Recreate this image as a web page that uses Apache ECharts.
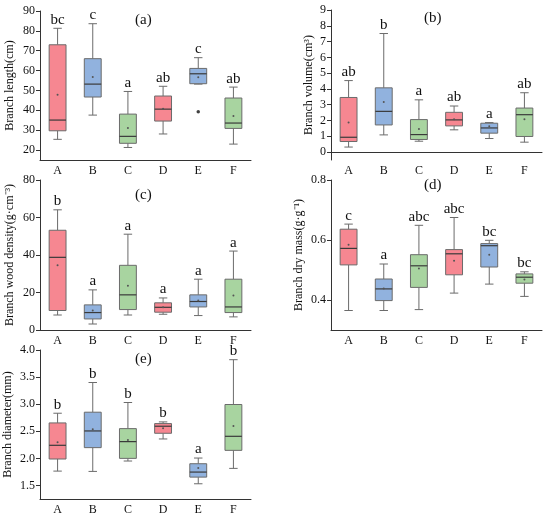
<!DOCTYPE html>
<html><head><meta charset="utf-8">
<script src="https://cdn.jsdelivr.net/npm/echarts@6/dist/echarts.min.js"></script>
<style>html,body{margin:0;padding:0;background:#fff}#c{width:550px;height:517px}</style>
</head><body><div id="c"></div>
<script>
const categories = ['A','B','C','D','E','F'];
const boxColors = ['#f68791','#91b2de','#a8d4a0','#f68791','#91b2de','#a8d4a0'];

// [min, Q1, median, Q3, max]
const lengthBox = [[25.4,29.7,35.1,73.0,81.3],[37.6,46.7,53.2,66.0,83.6],[21.3,23.4,26.9,38.1,49.5],[28.1,34.6,40.6,47.2,52.1],[53.2,53.4,58.4,61.1,66.5],[23.0,30.9,33.6,46.2,51.7]];
const lengthMean = [47.9,56.8,31.1,40.8,56.6,37.1];
const lengthLetters = ['bc','c','a','ab','c','ab'];
const lengthOutliers = [['E',39.3]];
const lengthTicks = [20,30,40,50,60,70,80,90];

const volumeBox = [[0.32,0.67,0.94,3.46,4.53],[1.09,1.72,2.58,4.07,7.51],[0.69,0.80,1.11,2.06,3.31],[1.41,1.66,2.04,2.52,2.92],[0.86,1.20,1.53,1.83,1.87],[0.63,0.99,2.37,2.79,3.76]];
const volumeMean = [1.87,3.17,1.47,2.08,1.64,2.08];
const volumeLetters = ['ab','b','a','ab','a','ab'];
const volumeTicks = [0,1,2,3,4,5,6,7,8,9];

const densityBox = [[8.0,10.4,38.75,53.2,64.1],[3.2,5.9,9.3,13.4,21.4],[8.0,10.9,18.75,34.5,51.1],[8.4,9.5,12.1,14.5,17.1],[7.7,12.3,15.2,18.75,27.1],[7.0,9.3,12.3,27.1,42.1]];
const densityMean = [34.5,10.4,23.6,12.1,15.7,18.4];
const densityLetters = ['b','a','a','a','a','a'];
const densityTicks = [0,20,40,60,80];

const dryBox = [[0.365,0.517,0.572,0.636,0.653],[0.365,0.398,0.437,0.470,0.520],[0.368,0.442,0.514,0.551,0.649],[0.423,0.484,0.554,0.568,0.675],[0.453,0.510,0.581,0.588,0.599],[0.412,0.456,0.476,0.487,0.494]];
const dryMean = [0.584,0.438,0.505,0.531,0.551,0.468];
const dryLetters = ['c','a','abc','abc','bc','bc'];
const dryTicks = [0.4,0.6,0.8];

const diameterBox = [[1.765,1.988,2.241,2.654,2.833],[1.759,2.198,2.506,2.852,3.40],[1.951,2.0,2.309,2.549,3.031],[2.358,2.463,2.593,2.642,2.673],[1.531,1.654,1.747,1.901,2.006],[1.815,2.148,2.407,2.994,3.821]];
const diameterMean = [2.296,2.537,2.34,2.556,1.821,2.599];
const diameterLetters = ['b','b','b','b','a','b'];
const diameterTicks = [1.5,2.0,2.5,3.0,3.5,4.0];

const FONT = "'Liberation Serif','Times New Roman',serif";

const panels = [
  {box:lengthBox, mean:lengthMean, letters:lengthLetters, ticks:lengthTicks, min:15, max:90, name:'Branch length(cm)', tag:'(a)',
   grid:{left:40,top:11,width:211,height:149}, nameGap:24, tagPos:[147,22], dec:0},
  {box:volumeBox, mean:volumeMean, letters:volumeLetters, ticks:volumeTicks, min:-0.5, max:9, name:'Branch volume(cm³)', tag:'(b)',
   grid:{left:331,top:10,width:211,height:150}, nameGap:16, tagPos:[436,20], dec:0},
  {box:densityBox, mean:densityMean, letters:densityLetters, ticks:densityTicks, min:0, max:80, name:'Branch wood density(g·cm⁻³)', tag:'(c)',
   grid:{left:40,top:180,width:211,height:150}, nameGap:24, tagPos:[147,197], dec:0},
  {box:dryBox, mean:dryMean, letters:dryLetters, ticks:dryTicks, min:0.3, max:0.8, name:'Branch dry mass(g·g⁻¹)', tag:'(d)',
   grid:{left:331,top:180,width:211,height:150}, nameGap:26, tagPos:[436,187], dec:1},
  {box:diameterBox, mean:diameterMean, letters:diameterLetters, ticks:diameterTicks, min:1.25, max:4.0, name:'Branch diameter(mm)', tag:'(e)',
   grid:{left:40,top:350,width:211,height:149}, nameGap:26, tagPos:[147,361], dec:1}
];

const grids=[], xAxes=[], yAxes=[], series=[], graphics=[];
panels.forEach((p, gi) => {
  grids.push(p.grid);
  xAxes.push({type:'category', gridIndex:gi, data:categories,
    axisLine:{lineStyle:{color:'#333',width:1}},
    axisTick:{inside:true, alignWithLabel:true, length:3, lineStyle:{color:'#333'}},
    axisLabel:{fontFamily:FONT, fontSize:12, color:'#111', margin:5},
    splitLine:{show:false}});
  yAxes.push({type:'value', gridIndex:gi, min:p.min, max:p.max,
    name:p.name, nameLocation:'middle', nameGap:p.nameGap, nameRotate:90,
    nameTextStyle:{fontFamily:FONT, fontSize:12, color:'#111'},
    axisLine:{show:true, lineStyle:{color:'#333',width:1}},
    axisTick:{show:true, inside:false, length:4, customValues:p.ticks, lineStyle:{color:'#333'}},
    axisLabel:{fontFamily:FONT, fontSize:12, color:'#111', margin:5, customValues:p.ticks,
      formatter: v => Number(v).toFixed(p.dec)},
    splitLine:{show:false}});
  const data = categories.map((c, i) => [i, ...p.box[i], p.mean[i]]);
  series.push({type:'custom', xAxisIndex:gi, yAxisIndex:gi, data:data,
    encode:{x:0, y:[1,5]}, silent:true,
    renderItem:(params, api) => {
      const i = api.value(0);
      const mn=api.value(1), q1=api.value(2), md=api.value(3), q3=api.value(4), mx=api.value(5), mean=api.value(6);
      const band = api.size([1,0])[0];
      const hw = band*0.24, cw = band*0.12;
      const pMin=api.coord([i,mn]), pQ1=api.coord([i,q1]), pMd=api.coord([i,md]), pQ3=api.coord([i,q3]), pMx=api.coord([i,mx]), pMean=api.coord([i,mean]);
      const x=pMin[0];
      const ls={stroke:'#6b6b6b', lineWidth:1};
      return {type:'group', children:[
        {type:'line', shape:{x1:x,y1:pMx[1],x2:x,y2:pQ3[1]}, style:ls},
        {type:'line', shape:{x1:x,y1:pMin[1],x2:x,y2:pQ1[1]}, style:ls},
        {type:'line', shape:{x1:x-cw,y1:pMx[1],x2:x+cw,y2:pMx[1]}, style:ls},
        {type:'line', shape:{x1:x-cw,y1:pMin[1],x2:x+cw,y2:pMin[1]}, style:ls},
        {type:'rect', shape:{x:x-hw, y:pQ3[1], width:2*hw, height:pQ1[1]-pQ3[1]},
          style:{fill:boxColors[i], stroke:'#6b6b6b', lineWidth:1}},
        {type:'line', shape:{x1:x-hw,y1:pMd[1],x2:x+hw,y2:pMd[1]}, style:{stroke:'#3a3a3a', lineWidth:1.2}},
        {type:'circle', shape:{cx:x, cy:pMean[1], r:1}, style:{fill:'#555'}},
        {type:'text', x:x, y:pMx[1]-1, style:{text:p.letters[i], fontFamily:FONT, fontSize:15, fill:'#111', align:'center', verticalAlign:'bottom'}}
      ]};
    }});
  graphics.push({type:'text', left:p.tagPos[0]-12, top:p.tagPos[1]-9,
    style:{text:p.tag, fontFamily:FONT, fontSize:15, fill:'#111'}});
});

series.push({type:'scatter', xAxisIndex:0, yAxisIndex:0, data:lengthOutliers,
  symbol:'circle', symbolSize:3.5, itemStyle:{color:'#111'}, silent:true});

const chart = echarts.init(document.getElementById('c'), null, {renderer:'canvas'});
chart.setOption({animation:false, backgroundColor:'#fff', grid:grids, xAxis:xAxes, yAxis:yAxes, series:series, graphic:graphics});
</script></body></html>
